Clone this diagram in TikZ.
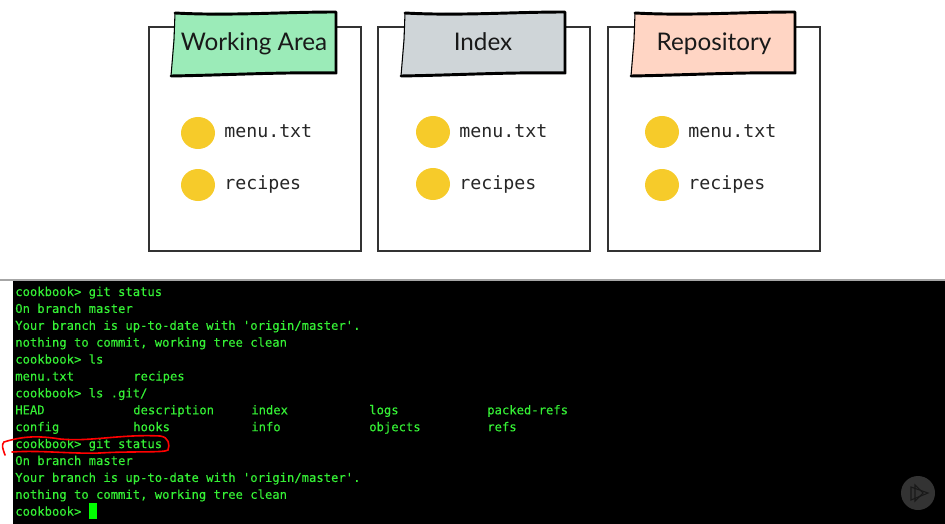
\documentclass[tikz,border=0pt]{standalone}
\usepackage{fontspec}
\setmainfont{Lato}
\setmonofont{DejaVu Sans Mono}
\newfontfamily\termfont[FakeBold=0.2]{DejaVu Sans Mono}
\definecolor{termgreen}{HTML}{35F035}
\definecolor{dotyellow}{HTML}{F6CB2A}
\definecolor{tabgreen}{HTML}{9BEBB8}
\definecolor{tabgray}{HTML}{CFD5D8}
\definecolor{tabpeach}{HTML}{FFD5C4}
\usetikzlibrary{shapes.geometric}
\tikzset{
    panelbox/.style={draw=black!80,line width=0.8pt},
    tabedge/.style={black,line width=2.2pt,line cap=round,line join=round},
    tabside/.style={black,line width=0.8pt,line cap=round},
    tabtext/.style={font=\fontsize{18.2}{22}\selectfont,text=black!90,inner sep=0pt,anchor=base},
    filetext/.style={font=\ttfamily\fontsize{13.7}{16}\selectfont,text=black!85,anchor=base west,inner sep=0pt},
    dot/.style={fill=dotyellow,draw=none,ellipse,minimum width=25.5pt,minimum height=24pt,inner sep=0pt},
    termtext/.style={font=\termfont\fontsize{9.15}{11}\selectfont,text=termgreen,anchor=base west,inner sep=0pt},
}
\begin{document}
\begin{tikzpicture}[x=0.75pt,y=-0.75pt]
            \useasboundingbox (0,0) rectangle (945,524);
            % Panels
            \draw[panelbox] (149,27) rectangle (361,251);
            \draw[panelbox] (378,27) rectangle (590,251);
            \draw[panelbox] (608,27) rectangle (820,251);
            % Tabs
            \fill[tabgreen] (175,13)--(336,12)--(336,73)--(171,76)--cycle;
            \draw[tabside] (175,13)--(174,40)--(171,76);
            \draw[tabedge] (175,13) .. controls (230,16) and (280,12) .. (336,12)--(336,73) .. controls (280,72) and (230,75) .. (171,76);
            \node[tabtext] (tabwork) at (254,51) {Working Area};
            \fill[tabgray] (405,13)--(565,12)--(565,73)--(401,76)--cycle;
            \draw[tabside] (405,13)--(404,40)--(401,76);
            \draw[tabedge] (405,13) .. controls (460,16) and (510,12) .. (565,12)--(565,73) .. controls (510,72) and (460,75) .. (401,76);
            \node[tabtext] (tabindex) at (483,51) {Index};
            \fill[tabpeach] (635,13)--(795,12)--(795,73)--(631,76)--cycle;
            \draw[tabside] (635,13)--(634,40)--(631,76);
            \draw[tabedge] (635,13) .. controls (690,16) and (740,12) .. (795,12)--(795,73) .. controls (740,72) and (690,75) .. (631,76);
            \node[tabtext] (tabrepo) at (714,51) {Repository};
            % Files
            \node[dot] (dotworkmenu) at (198,133) {};
            \node[filetext] (workmenu) at (224,138) {menu.txt};
            \node[dot] (dotworkrec) at (198,185) {};
            \node[filetext] (workrec) at (224,190) {recipes};
            \node[dot] (dotindexmenu) at (433,132) {};
            \node[filetext] (indexmenu) at (459,138) {menu.txt};
            \node[dot] (dotindexrec) at (433,184) {};
            \node[filetext] (indexrec) at (459,190) {recipes};
            \node[dot] (dotrepomenu) at (662,132) {};
            \node[filetext] (repomenu) at (688,138) {menu.txt};
            \node[dot] (dotreporec) at (662,185) {};
            \node[filetext] (reporec) at (688,190) {recipes};
            % Terminal
            \draw[black!35,line width=0.8pt] (0,280)--(945,280);
            \fill[black] (13,281) rectangle (945,524);
            \node[termtext] (line1) at (15,296) {cookbook> git status};
            \node[termtext] (line2) at (15,312.9) {On branch master};
            \node[termtext] (line3) at (15,329.8) {Your branch is up-to-date with 'origin/master'.};
            \node[termtext] (line4) at (15,346.7) {nothing to commit, working tree clean};
            \node[termtext] (line5) at (15,363.6) {cookbook> ls};
            \node[termtext] (line6) at (15,380.5) {menu.txt};
            \node[termtext] (line6b) at (133,380.5) {recipes};
            \node[termtext] (line7) at (15,397.4) {cookbook> ls .git/};
            \node[termtext] (line8) at (15,414.3) {HEAD};
            \node[termtext] (line8b) at (133,414.3) {description};
            \node[termtext] (line8c) at (251,414.3) {index};
            \node[termtext] (line8d) at (369,414.3) {logs};
            \node[termtext] (line8e) at (487,414.3) {packed-refs};
            \node[termtext] (line9) at (15,431.2) {config};
            \node[termtext] (line9b) at (133,431.2) {hooks};
            \node[termtext] (line9c) at (251,431.2) {info};
            \node[termtext] (line9d) at (369,431.2) {objects};
            \node[termtext] (line9e) at (487,431.2) {refs};
            \node[termtext] (line10) at (15,448.1) {cookbook> git status};
            \node[termtext] (line11) at (15,465) {On branch master};
            \node[termtext] (line12) at (15,481.9) {Your branch is up-to-date with 'origin/master'.};
            \node[termtext] (line13) at (15,498.8) {nothing to commit, working tree clean};
            \node[termtext] (line14) at (15,515.7) {cookbook>};
            \fill[green] (89,503) rectangle (97,519); % cursor
            % Red mark
            \draw[red,line width=1.2pt,line cap=round] (5,455) .. controls (3,449) and (1,445) .. (4,442) .. controls (20,437) and (35,435) .. (60,439) .. controls (90,442) and (120,434) .. (160,436) .. controls (169,437) and (170,445) .. (168,450) .. controls (165,453) and (130,451) .. (100,453) .. controls (70,454) and (40,450) .. (12,452);
            % Play button
            \node[circle,fill=black!80,draw=none,minimum size=25.5pt,inner sep=0pt] (playbtn) at (918,493) {};
            \draw[black!90,line width=0.8pt] (911,487)--(928,493)--(911,500)--cycle;
            \draw[black!90,line width=0.8pt] (915,485)--(915,501)--(923,493)--cycle;
\end{tikzpicture}
\end{document}
